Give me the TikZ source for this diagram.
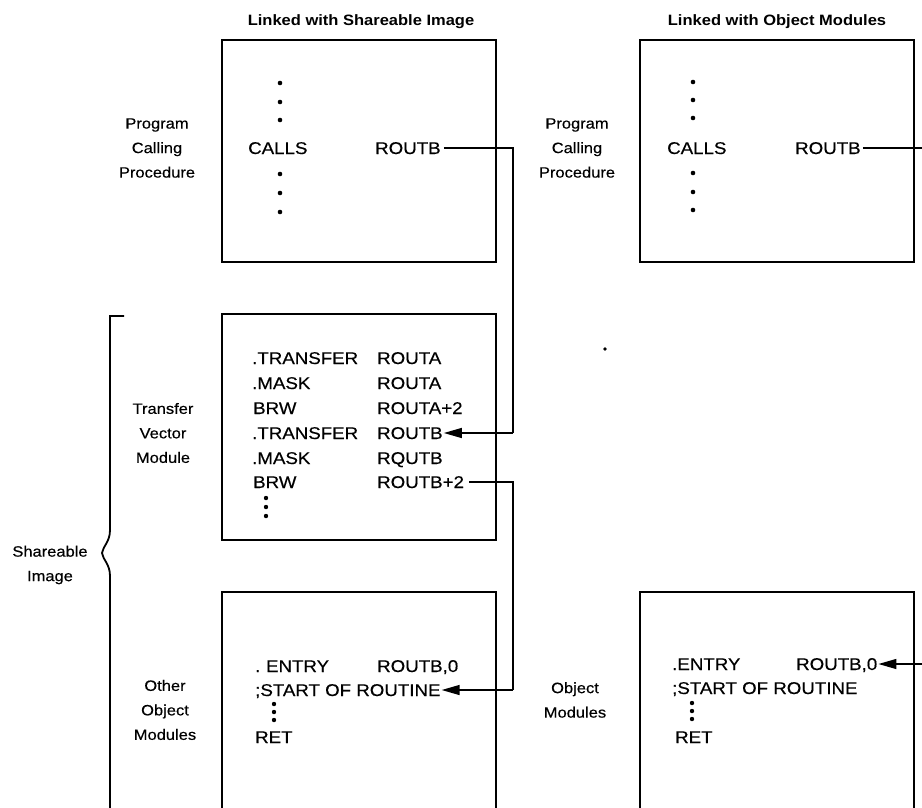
\documentclass[tikz,border=0pt]{standalone}
\usepackage{fontspec}
\setmainfont{Liberation Sans}[FakeStretch=1.1]
\newfontfamily\codefont{Liberation Sans}[FakeStretch=1.1,FakeBold=0.35]
\usetikzlibrary{arrows.meta}
\begin{document}
\begin{tikzpicture}[x=1pt,y=-1pt,
  box/.style={draw, line width=1.8pt, minimum width=274pt, inner sep=0pt},
  code/.style={font=\codefont\fontsize{17}{20}\selectfont, inner sep=0pt, anchor=west, text height=12pt, text depth=0pt},
  lbl/.style={font=\codefont\fontsize{15}{24.5}\selectfont, align=center, inner sep=0pt},
  ttl/.style={font=\bfseries\fontsize{15}{18}\selectfont, inner sep=0pt, anchor=base},
  conn/.style={line width=1.4pt},
  arr/.style={line width=1.4pt, -{Triangle[length=18pt,width=10pt]}, shorten >=1pt},
  bracket/.style={line width=1.8pt}
]
\useasboundingbox (0,0) rectangle (922,807);
\clip (0,0) rectangle (922,807);

% titles
\node[ttl] (t1) at (361,25.5) {Linked with Shareable Image};
\node[ttl] (t2) at (777,25.5) {Linked with Object Modules};

% boxes
\node[box, minimum height=222pt] (boxA) at (359,151) {};
\node[box, minimum height=226pt] (boxB) at (359,427) {};
\node[box, minimum height=240pt] (boxC) at (359,712) {};
\node[box, minimum height=222pt] (boxD) at (777,151) {};
\node[box, minimum height=240pt] (boxE) at (777,712) {};

% side labels
\node[lbl] (lA) at (157,148) {Program\\Calling\\Procedure};
\node[lbl] (lB) at (163,433) {Transfer\\Vector\\Module};
\node[lbl] (lC) at (165,710) {Other\\Object\\Modules};
\node[lbl] (lS) at (50,565) {Shareable\\Image};
\node[lbl] (lD) at (577,148) {Program\\Calling\\Procedure};
\node[lbl] (lE) at (575,700) {Object\\Modules};

% box A contents
\fill (280,83) circle (2.3); \fill (280,102) circle (2.3); \fill (280,120) circle (2.3);
\node[code] (callsA) at (248,148) {CALLS};
\node[code] (routbA) at (375,148) {ROUTB};
\fill (280,174) circle (2.3); \fill (280,193) circle (2.3); \fill (280,212) circle (2.3);

% box B contents
\node[code] (b1l) at (252,358) {.TRANSFER};
\node[code] (b1r) at (377,358) {ROUTA};
\node[code] (b2l) at (252,383) {.MASK};
\node[code] (b2r) at (377,383) {ROUTA};
\node[code] (b3l) at (253,408) {BRW};
\node[code] (b3r) at (377,408) {ROUTA+2};
\node[code] (b4l) at (252,433) {.TRANSFER};
\node[code] (routbB) at (377,433) {ROUTB};
\node[code] (b5l) at (252,458) {.MASK};
\node[code] (b5r) at (377,458) {RQUTB};
\node[code] (b6l) at (253,482) {BRW};
\node[code] (routb2) at (377,482) {ROUTB+2};
\fill (266,498) circle (2.2); \fill (266,507) circle (2.2); \fill (266,516) circle (2.2);

% box C contents
\node[code] (c1l) at (255,666) {.\,\,ENTRY};
\node[code] (c1r) at (377,666) {ROUTB,0};
\node[code] (startC) at (255,690) {;START OF ROUTINE};
\fill (274,704) circle (2.2); \fill (274,712) circle (2.2); \fill (274,720) circle (2.2);
\node[code] (retC) at (255,737) {RET};

% box D contents
\fill (693,82) circle (2.3); \fill (693,100) circle (2.3); \fill (693,118) circle (2.3);
\node[code] (callsD) at (667,148) {CALLS};
\node[code] (routbD) at (795,148) {ROUTB};
\fill (693,173) circle (2.3); \fill (693,192) circle (2.3); \fill (693,210) circle (2.3);

% box E contents
\node[code] (e1l) at (672,664) {.ENTRY};
\node[code] (routb0E) at (796,664) {ROUTB,0};
\node[code] (startE) at (672,688) {;START OF ROUTINE};
\fill (692,703) circle (2.2); \fill (692,711) circle (2.2); \fill (692,719) circle (2.2);
\node[code] (retE) at (675,737) {RET};

% stray speck
\fill (605,349) circle (1.8);

% bracket
\draw[bracket] (124,316) -- (110,316) -- (110,530)
  .. controls (110,542) and (103,546) .. (102,553)
  .. controls (103,560) and (110,564) .. (110,576) -- (110,812);

% connectors
\coordinate (jx) at (513,0);
\coordinate (edge) at (922,0);
\draw[conn, shorten <=3pt] (routbA.east) -- (routbA.east -| jx) -- (routbB.east -| jx);
\draw[arr] (routbB.east -| jx) -- (routbB.east);
\draw[conn, shorten <=5pt] (routb2.east) -- (routb2.east -| jx) -- (startC.east -| jx);
\draw[arr] (startC.east -| jx) -- (startC.east);
\draw[conn, shorten <=2pt] (routbD.east) -- (routbD.east -| edge);
\draw[arr] (routb0E.east -| edge) -- (routb0E.east);
\end{tikzpicture}
\end{document}
